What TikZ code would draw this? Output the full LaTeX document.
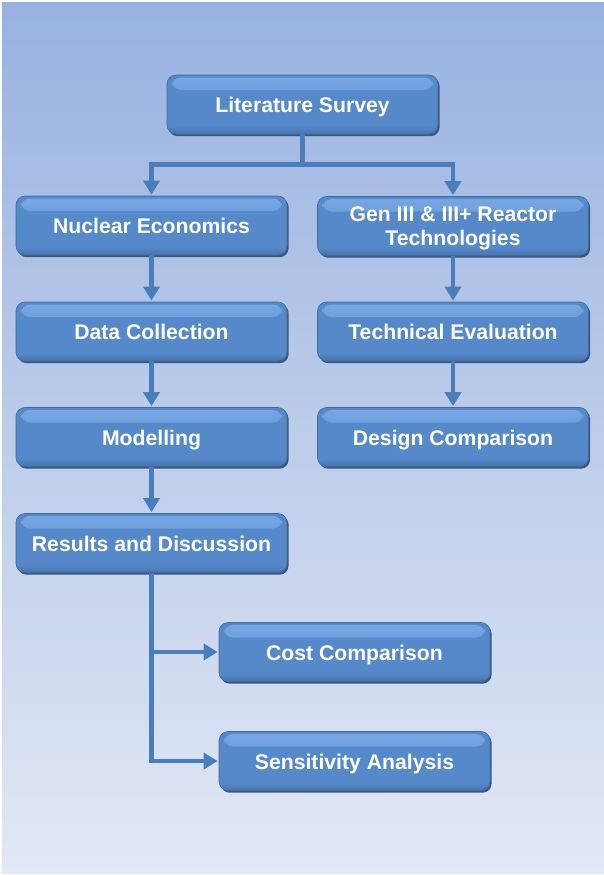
\documentclass[tikz,border=0pt]{standalone}
\usepackage{fontspec}
\setmainfont{Liberation Sans}
\usetikzlibrary{arrows.meta,shadows}
\definecolor{bgtop}{HTML}{98B2E0}
\definecolor{bgbot}{HTML}{E2E8F4}
\definecolor{boxblue}{HTML}{5589C9}
\definecolor{boxedge}{HTML}{44689C}
\definecolor{boxshade}{HTML}{38587F}
\definecolor{boxhl}{HTML}{78A8E4}
\definecolor{boxlow}{HTML}{4673AE}
\definecolor{linkblue}{HTML}{4A7EBB}
\tikzset{
  stage/.style={
    draw=boxedge, line width=0.6pt, fill=boxblue,
    rounded corners=9pt,
    minimum width=271pt, minimum height=59pt, inner sep=0pt,
    align=center, text=white,
    text height=16pt, text depth=0pt,
    font=\fontsize{21.2}{23.5}\selectfont\bfseries,
    general shadow={fill=boxshade, shadow xshift=1.6pt, shadow yshift=-2.2pt},
    path picture={
      % soft bevel: light band at the top, darker band at the bottom
      \shade[top color=boxhl, bottom color=boxblue]
        ([xshift=5pt,yshift=-2.5pt]path picture bounding box.north west)
        rectangle ([xshift=-5pt,yshift=-15pt]path picture bounding box.north east);
      \shade[top color=boxblue, bottom color=boxlow]
        ([yshift=8pt]path picture bounding box.south west)
        rectangle (path picture bounding box.south east);
    }
  },
  link/.style={draw=linkblue, line width=4.5pt, line join=miter,
    -{Triangle[width=16pt,length=14pt]}, shorten >=1pt}
}
\begin{document}
\begin{tikzpicture}[x=1pt,y=-1pt]
  % page and background
  \useasboundingbox (0,0) rectangle (604,875);
  \fill[white] (0,0) rectangle (604,875);
  \shade[top color=bgtop, bottom color=bgbot] (2,3) rectangle (604,873);

  % stages
  \node[stage] (lit)  at (302.5,104.5) {Literature Survey};
  \node[stage] (nuc)  at (151.5,225.5) {Nuclear Economics};
  \node[stage, text height=38pt] (gen) at (453,226) {Gen III \& III+ Reactor\\Technologies};
  \node[stage] (data) at (151.5,331.5) {Data Collection};
  \node[stage] (tech) at (453,331.5)   {Technical Evaluation};
  \node[stage] (mod)  at (151.5,437)   {Modelling};
  \node[stage] (des)  at (453,437)     {Design Comparison};
  \node[stage] (res)  at (151.5,543)   {Results and Discussion};
  \node[stage] (cost) at (354.5,652)   {Cost Comparison};
  \node[stage] (sens) at (354.5,761)   {Sensitivity Analysis};

  % split point under the survey
  \coordinate (split) at ([yshift=-30pt]lit.south);

  % connectors
  \draw[link] (lit.south) -- (split) -| (nuc.north);
  \draw[link] (lit.south) -- (split) -| (gen.north);
  \draw[link] (nuc) -- (data);
  \draw[link] (data) -- (mod);
  \draw[link] (mod) -- (res);
  \draw[link] (gen) -- (tech);
  \draw[link] (tech) -- (des);
  \draw[link] (res.south) |- (cost.west);
  \draw[link] (res.south) |- (sens.west);
\end{tikzpicture}
\end{document}
